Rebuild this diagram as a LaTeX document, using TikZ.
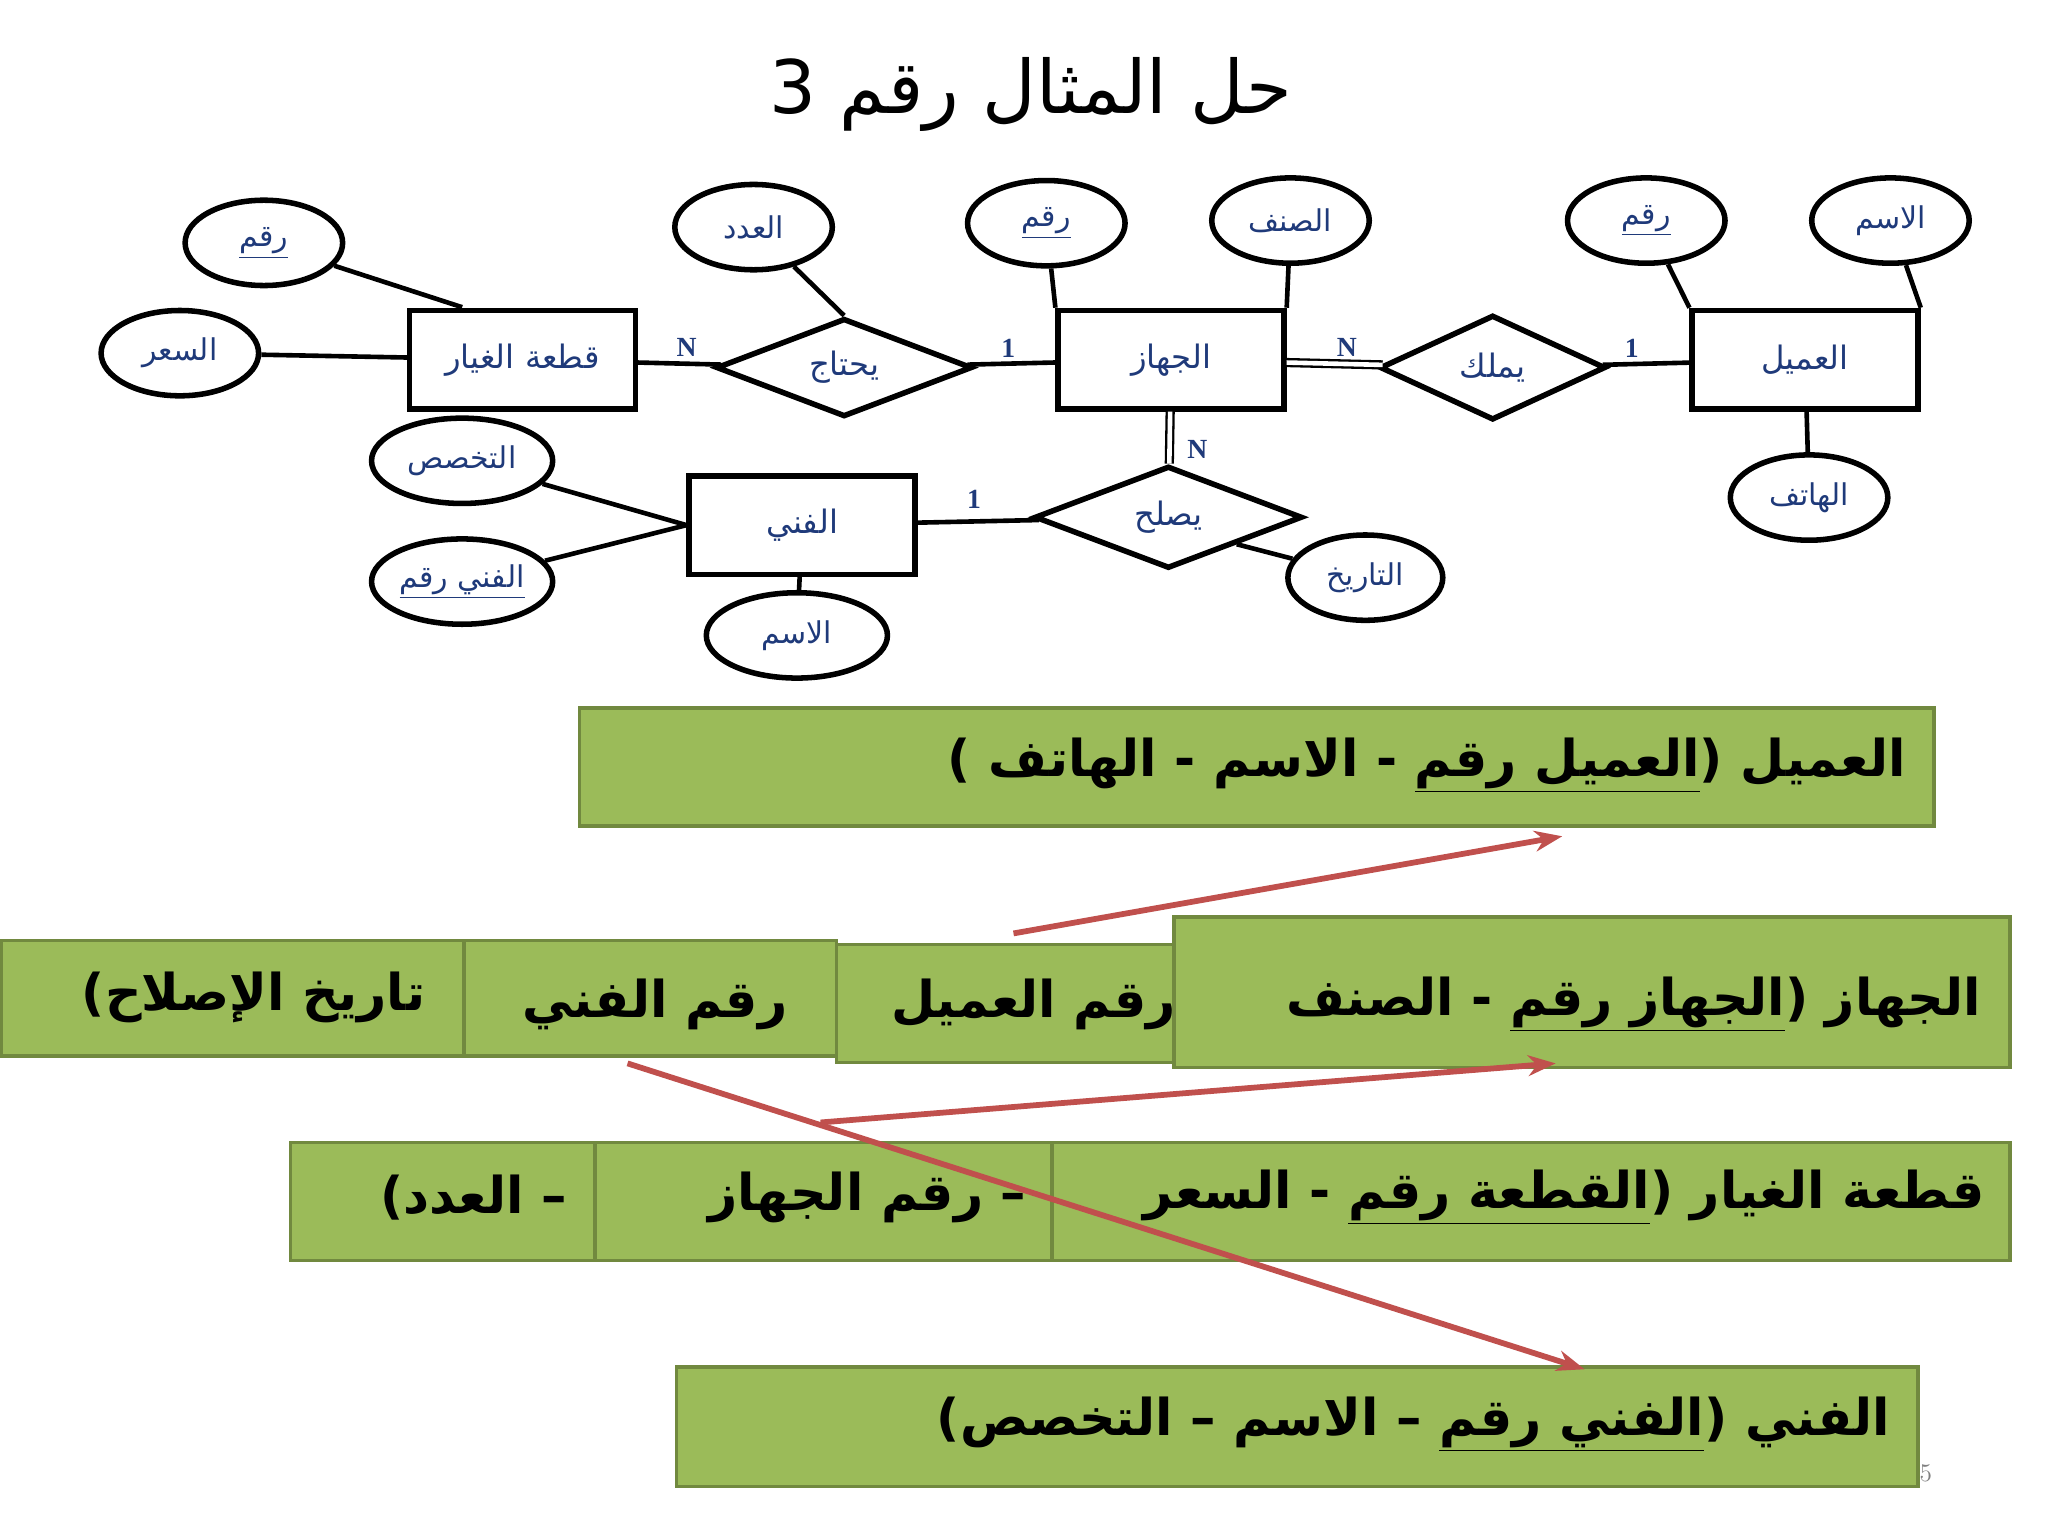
\documentclass[tikz,border=0pt]{standalone}
\usepackage{fontspec}
\usetikzlibrary{shapes.geometric,arrows.meta}
\TeXXeTstate=1
\newfontfamily\arabicfont[Script=Arabic]{DejaVu Sans}
\newfontfamily\latf{Liberation Serif}
\newcommand{\ar}[1]{{\arabicfont\beginR #1\endR}}
\definecolor{bl}{HTML}{1F3A7A}
\definecolor{gr}{HTML}{9BBB59}
\definecolor{grd}{HTML}{71893F}
\definecolor{rd}{HTML}{C0504D}
\tikzset{
 ent/.style={draw,line width=2.4pt,minimum width=3.44cm,minimum height=1.5cm,font=\fontsize{14}{16}\selectfont,text=bl},
 rel/.style={draw,diamond,line width=2.4pt,aspect=2.6,inner sep=0pt,minimum width=3.9cm,minimum height=1.5cm,font=\fontsize{14}{16}\selectfont,text=bl},
 att/.style={draw,ellipse,line width=2.4pt,minimum width=2.4cm,minimum height=1.3cm,inner sep=0pt,font=\fontsize{13}{15}\selectfont,text=bl},
 ln/.style={line width=2pt},
 card/.style={font=\latf\bfseries\fontsize{12}{14}\selectfont,text=bl},
 tb/.style={draw=grd,fill=gr,line width=1.5pt,anchor=north west,inner sep=0pt},
 tt/.style={font=\fontsize{22}{26}\selectfont\bfseries,anchor=east},
 ra/.style={draw=rd,line width=2.5pt,-{Stealth[length=12pt,width=9pt]}}
}
\begin{document}
\begin{tikzpicture}[x=0.02cm,y=-0.02cm]
\useasboundingbox (0,0) rectangle (1560,1170);
\node[font=\fontsize{32}{38}\selectfont] (title) at (785,72) {\ar{حل المثال رقم 3}};
% entities
\node[ent] (qg) at (398,274) {\ar{قطعة الغيار}};
\node[ent] (jh) at (892,274) {\ar{الجهاز}};
\node[ent] (am) at (1375,274) {\ar{العميل}};
\node[ent] (fn) at (611,400) {\ar{الفني}};
% relations
\node[rel] (yh) at (643,280) {\ar{يحتاج}};
\node[rel,minimum width=3.44cm,minimum height=1.6cm] (ym) at (1137,280) {\ar{يملك}};
\node[rel,minimum width=4.08cm,minimum height=1.56cm] (ys) at (890,394) {\ar{يصلح}};
% attributes
\node[att] (a1) at (201,185) {\ar{\underline{رقم}}};
\node[att] (a2) at (137,269) {\ar{السعر}};
\node[att] (a3) at (574,173) {\ar{العدد}};
\node[att] (a4) at (797,170) {\ar{\underline{رقم}}};
\node[att] (a5) at (983,168) {\ar{الصنف}};
\node[att] (a6) at (1254,168) {\ar{\underline{رقم}}};
\node[att] (a7) at (1440,168) {\ar{الاسم}};
\node[att] (a8) at (1378,379) {\ar{الهاتف}};
\node[att,minimum width=2.76cm] (a9) at (352,351) {\ar{التخصص}};
\node[att,minimum width=2.76cm] (a10) at (352,443) {\ar{\underline{رقم الفني}}};
\node[att,minimum width=2.76cm] (a11) at (607,484) {\ar{الاسم}};
\node[att,minimum width=2.36cm] (a12) at (1040,440) {\ar{التاريخ}};
\coordinate (q1) at (352,234);
\draw[ln] (a1) -- (q1);
\draw[ln] (a2) -- (qg);
\draw[ln] (a3) -- (yh.north);
\draw[ln] (a4) -- (jh.north west);
\draw[ln] (a5) -- (jh.north east);
\draw[ln] (a6) -- (am.north west);
\draw[ln] (a7) -- (am.north east);
\draw[ln] (a8) -- (am);
\draw[ln] (a9) -- (fn.west);
\draw[ln] (a10) -- (fn.west);
\draw[ln] (a11) -- (fn);
\draw[ln] (a12) -- (ys.south east);
\draw[ln] (qg) -- (yh);
\draw[ln] (yh) -- (jh);
\draw[double,line width=1pt,double distance=2pt] (jh) -- (ym);
\draw[ln] (ym) -- (am);
\draw[double,line width=1pt,double distance=2pt] (jh) -- (ys);
\draw[ln] (fn) -- (ys);
\node[card] (c1) at (523,265) {N};
\node[card] (c2) at (768,265) {1};
\node[card] (c3) at (1026,265) {N};
\node[card] (c4) at (1243,265) {1};
\node[card] (c5) at (912,342) {N};
\node[card] (c6) at (742,380) {1};
% tables
\node[tb,minimum width=20.64cm,minimum height=1.8cm] (r1) at (440,538) {};
\node[tt] (t1) at (1458,583) {\ar{العميل (\underline{رقم العميل} - الاسم - الهاتف )}};
\node[tb,minimum width=7.76cm,minimum height=1.76cm] (r2a) at (0,715) {};
\node[tb,minimum width=5.68cm,minimum height=1.76cm] (r2b) at (352,715) {};
\node[tb,minimum width=5.88cm,minimum height=1.8cm] (r2c) at (636,718) {};
\node[tb,minimum width=12.74cm,minimum height=2.3cm] (r2d) at (893,697) {};
\node[tt] (t2a) at (330,760) {\ar{تاريخ الإصلاح)}};
\node[tt] (t2b) at (606,765) {\ar{رقم الفني}};
\node[tt] (t2c) at (902,765) {\ar{رقم العميل}};
\node[tt] (t2d) at (1515,765) {\ar{الجهاز (\underline{رقم الجهاز} - الصنف}};
\node[tb,minimum width=4.64cm,minimum height=1.8cm] (r3a) at (220,869) {};
\node[tb,minimum width=6.96cm,minimum height=1.8cm] (r3b) at (452,869) {};
\node[tb,minimum width=14.6cm,minimum height=1.8cm] (r3c) at (800,869) {};
\node[tt] (t3a) at (438,912) {\ar{– العدد)}};
\node[tt] (t3b) at (788,912) {\ar{– رقم الجهاز}};
\node[tt] (t3c) at (1518,912) {\ar{قطعة الغيار (\underline{رقم القطعة} - السعر}};
\node[tb,minimum width=18.92cm,minimum height=1.82cm] (r4) at (514,1040) {};
\node[tt] (t4) at (1446,1085) {\ar{الفني (\underline{رقم الفني} – الاسم – التخصص)}};
\node[font=\fontsize{11}{13}\selectfont,text=gray] (pg) at (1467,1122) {5};
% arrows
\coordinate (s1) at (772,711); \coordinate (e1) at (1190,637);
\coordinate (s2) at (625,855); \coordinate (e2) at (1185,810);
\coordinate (s3) at (478,810); \coordinate (e3) at (1207,1043);
\draw[ra] (s1) -- (e1);
\draw[ra] (s2) -- (e2);
\draw[ra] (s3) -- (e3);
\end{tikzpicture}
\end{document}
